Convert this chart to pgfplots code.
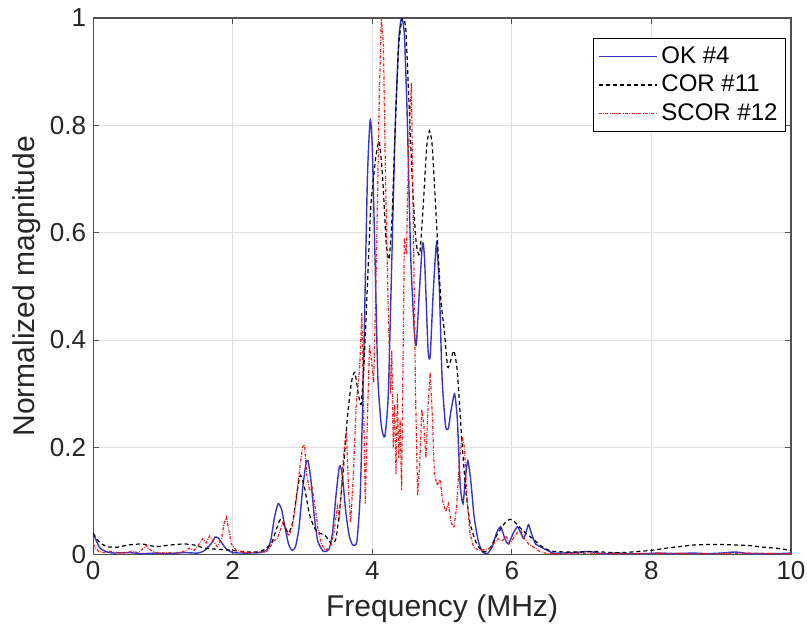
\documentclass[border=0pt]{standalone}
\usepackage{fontspec}
\setmainfont{Liberation Sans}
\usepackage{pgfplots}
\pgfplotsset{compat=1.18}
\definecolor{okblue}{RGB}{55,55,195}
\definecolor{scred}{RGB}{235,30,30}
\definecolor{axgray}{RGB}{80,80,80}
\begin{document}
\begin{tikzpicture}
\begin{axis}[
  scale only axis, width=348.5pt, height=268pt,
  xmin=0, xmax=10, ymin=0, ymax=1,
  xtick={0,2,4,6,8,10}, ytick={0,0.2,0.4,0.6,0.8,1},
  grid=major, major grid style={draw=black!12, line width=0.4pt},
  axis line style={draw=axgray, line width=0.6pt},
  tick align=inside, major tick length=3pt, tick style={draw=axgray, line width=0.5pt},
  /pgf/number format/assume math mode=true,
  tick label style={font=\fontsize{13}{15}\selectfont, text=black!85},
  label style={font=\fontsize{15}{18}\selectfont, text=black!85},
  xlabel={Frequency (MHz)}, ylabel={Normalized magnitude},
  xlabel style={at={(axis description cs:0.5,-0.1)}, anchor=center},
  ylabel style={at={(axis description cs:-0.095,0.5)}, anchor=center},
  legend style={at={(0.993,0.963)}, anchor=north east, line width=0.5pt,
    font=\fontsize{12}{14}\selectfont, inner sep=2pt, row sep=0.5pt,
    legend cell align=left},
  legend image code/.code={\draw[#1] (0pt,0pt) -- (29pt,0pt);},
]
\addplot[okblue, line width=0.7pt, smooth, tension=0.35] coordinates {
(0.00,0.040) (0.05,0.025) (0.10,0.012) (0.20,0.005) (0.30,0.003) (0.50,0.004) (0.70,0.002)
(0.90,0.003) (1.10,0.002) (1.30,0.004) (1.50,0.003) (1.60,0.008) (1.70,0.022) (1.75,0.033)
(1.80,0.030) (1.90,0.012) (2.00,0.004) (2.20,0.003) (2.40,0.004) (2.50,0.010) (2.55,0.030)
(2.60,0.070) (2.65,0.095) (2.70,0.085) (2.75,0.050) (2.80,0.020) (2.85,0.008) (2.90,0.015)
(2.95,0.050) (3.00,0.120) (3.05,0.170) (3.08,0.175) (3.12,0.140) (3.17,0.070) (3.22,0.025)
(3.30,0.006) (3.38,0.010) (3.43,0.040) (3.48,0.110) (3.53,0.165) (3.57,0.150) (3.62,0.080)
(3.67,0.035) (3.72,0.018) (3.78,0.025) (3.83,0.120) (3.88,0.380) (3.93,0.700) (3.97,0.810)
(4.00,0.760) (4.04,0.550) (4.08,0.330) (4.13,0.240) (4.18,0.220) (4.23,0.300) (4.28,0.550)
(4.33,0.800) (4.38,0.960) (4.42,1.000) (4.46,0.970) (4.50,0.820) (4.55,0.560) (4.60,0.420)
(4.63,0.390) (4.67,0.480) (4.72,0.580) (4.75,0.550) (4.80,0.380) (4.83,0.370) (4.87,0.480)
(4.92,0.580) (4.96,0.500) (5.00,0.330) (5.05,0.240) (5.09,0.235) (5.13,0.270) (5.18,0.300)
(5.22,0.250) (5.26,0.130) (5.30,0.095) (5.34,0.150) (5.37,0.175) (5.41,0.140) (5.46,0.070)
(5.52,0.025) (5.58,0.005) (5.65,0.002) (5.72,0.015) (5.78,0.040) (5.84,0.052) (5.90,0.030)
(5.95,0.020) (6.02,0.040) (6.08,0.052) (6.13,0.040) (6.17,0.030) (6.21,0.045) (6.24,0.056)
(6.28,0.040) (6.34,0.020) (6.42,0.014) (6.51,0.008) (6.59,0.003) (6.70,0.003) (6.90,0.004)
(7.10,0.006) (7.30,0.002) (7.50,0.003) (7.70,0.002) (7.90,0.002) (8.10,0.003) (8.30,0.002)
(8.60,0.003) (8.80,0.002) (9.00,0.003) (9.20,0.005) (9.40,0.002) (9.60,0.002) (9.80,0.002)
(10.0,0.003)};
\addplot[black, line width=0.6pt, dash pattern=on 2pt off 1.5pt, smooth, tension=0.35] coordinates {
(0.00,0.040) (0.05,0.030) (0.10,0.022) (0.20,0.015) (0.35,0.014) (0.50,0.018) (0.70,0.020)
(0.90,0.015) (1.10,0.018) (1.30,0.020) (1.45,0.018) (1.60,0.012) (1.80,0.010) (2.00,0.008)
(2.20,0.005) (2.40,0.006) (2.55,0.020) (2.62,0.045) (2.68,0.065) (2.74,0.055) (2.80,0.040)
(2.86,0.060) (2.92,0.115) (2.97,0.148) (3.03,0.125) (3.10,0.075) (3.18,0.048) (3.25,0.040)
(3.33,0.035) (3.42,0.020) (3.48,0.030) (3.53,0.080) (3.58,0.150) (3.64,0.250) (3.70,0.320)
(3.75,0.340) (3.80,0.300) (3.84,0.280) (3.88,0.350) (3.93,0.500) (3.98,0.650) (4.05,0.740)
(4.10,0.770) (4.15,0.700) (4.20,0.580) (4.24,0.550) (4.28,0.620) (4.33,0.800) (4.38,0.950)
(4.43,1.000) (4.48,0.980) (4.53,0.830) (4.58,0.680) (4.63,0.580) (4.68,0.560) (4.73,0.650)
(4.78,0.760) (4.82,0.790) (4.86,0.760) (4.92,0.620) (4.98,0.480) (5.03,0.420) (5.08,0.350)
(5.12,0.360) (5.17,0.380) (5.22,0.340) (5.28,0.220) (5.34,0.120) (5.40,0.060) (5.48,0.025)
(5.55,0.010) (5.62,0.005) (5.70,0.015) (5.78,0.035) (5.85,0.050) (5.92,0.062) (5.98,0.066)
(6.05,0.060) (6.12,0.050) (6.20,0.040) (6.30,0.030) (6.40,0.018) (6.50,0.010) (6.60,0.006)
(6.80,0.005) (7.00,0.005) (7.20,0.006) (7.40,0.004) (7.60,0.004) (7.80,0.006) (8.00,0.008)
(8.20,0.012) (8.40,0.015) (8.60,0.018) (8.80,0.019) (9.00,0.019) (9.20,0.018) (9.40,0.017)
(9.60,0.014) (9.80,0.012) (10.0,0.008)};
\addplot[scred, line width=0.6pt, dash pattern=on 1.5pt off 0.7pt on 0.4pt off 0.7pt] coordinates {
(0.00,0.020) (0.04,0.012) (0.08,0.006) (0.15,0.004) (0.25,0.006) (0.35,0.004) (0.45,0.003)
(0.55,0.006) (0.65,0.004) (0.72,0.012) (0.76,0.018) (0.80,0.010) (0.90,0.004) (1.00,0.003)
(1.10,0.004) (1.20,0.003) (1.30,0.006) (1.38,0.012) (1.45,0.008) (1.52,0.020) (1.57,0.030)
(1.62,0.022) (1.67,0.035) (1.72,0.025) (1.78,0.015) (1.84,0.030) (1.88,0.060) (1.91,0.070)
(1.94,0.050) (1.98,0.020) (2.05,0.008) (2.15,0.005) (2.25,0.003) (2.35,0.006) (2.45,0.004)
(2.52,0.010) (2.58,0.025) (2.64,0.030) (2.68,0.045) (2.72,0.060) (2.76,0.050) (2.80,0.035)
(2.85,0.050) (2.90,0.090) (2.95,0.150) (3.00,0.200) (3.03,0.205) (3.06,0.150) (3.10,0.120)
(3.14,0.125) (3.18,0.090) (3.22,0.050) (3.27,0.020) (3.33,0.008) (3.40,0.015) (3.45,0.040)
(3.50,0.090) (3.53,0.070) (3.57,0.150) (3.60,0.200) (3.63,0.230) (3.66,0.120) (3.69,0.060)
(3.73,0.150) (3.77,0.280) (3.82,0.350) (3.85,0.450) (3.88,0.250) (3.90,0.095) (3.93,0.250)
(3.96,0.390) (3.99,0.360) (4.02,0.320) (4.06,0.550) (4.10,0.850) (4.13,1.000) (4.16,0.950)
(4.19,0.700) (4.23,0.450) (4.26,0.300) (4.28,0.380) (4.30,0.200) (4.32,0.280) (4.34,0.150)
(4.36,0.300) (4.38,0.180) (4.40,0.250) (4.42,0.120) (4.44,0.350) (4.46,0.590) (4.49,0.560)
(4.52,0.750) (4.56,0.880) (4.59,0.600) (4.62,0.300) (4.65,0.110) (4.68,0.170) (4.71,0.270)
(4.74,0.240) (4.77,0.180) (4.80,0.280) (4.83,0.340) (4.86,0.260) (4.89,0.150) (4.93,0.130)
(4.97,0.140) (5.01,0.100) (5.05,0.080) (5.09,0.095) (5.13,0.060) (5.17,0.050) (5.21,0.090)
(5.25,0.180) (5.29,0.220) (5.32,0.200) (5.36,0.100) (5.40,0.040) (5.45,0.015) (5.50,0.010)
(5.56,0.008) (5.62,0.010) (5.68,0.012) (5.74,0.020) (5.80,0.030) (5.86,0.025) (5.92,0.035)
(5.96,0.020) (6.02,0.030) (6.08,0.042) (6.13,0.045) (6.18,0.030) (6.24,0.020) (6.30,0.015)
(6.40,0.006) (6.50,0.002) (6.80,0.002) (7.10,0.003) (7.40,0.002) (7.80,0.002) (8.20,0.003)
(8.60,0.002) (9.00,0.002) (9.40,0.003) (9.80,0.002) (10.0,0.002)};
\legend{OK \#4, COR \#11, SCOR \#12}
\end{axis}
\pgfresetboundingbox
\path (-46.5pt,-39pt) rectangle (356.5pt,277pt);
\end{tikzpicture}
\end{document}
